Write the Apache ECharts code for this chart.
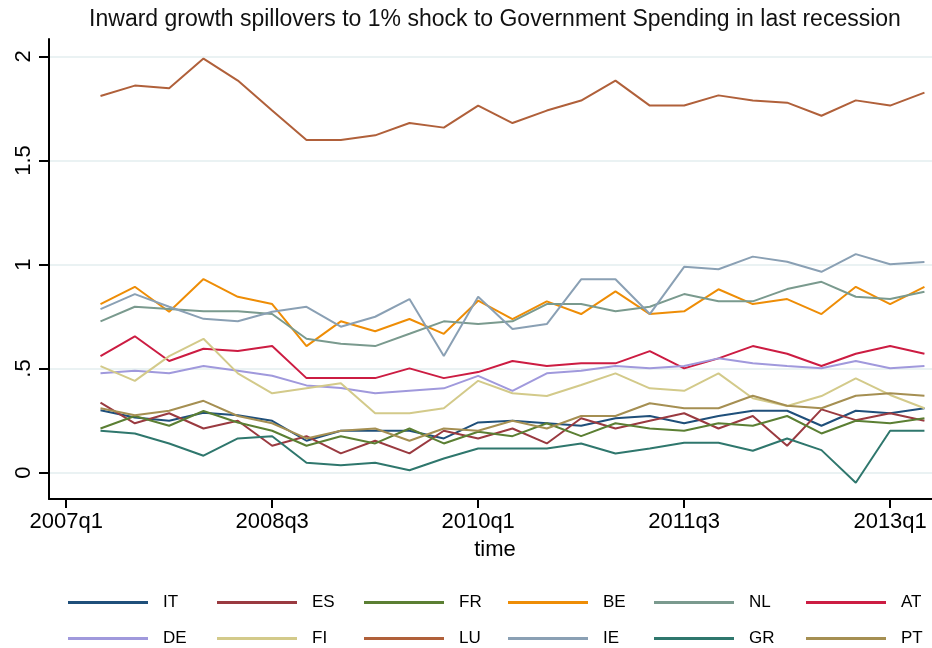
<!DOCTYPE html>
<html>
<head>
<meta charset="utf-8">
<script src="https://cdn.jsdelivr.net/npm/echarts@6/dist/echarts.min.js"></script>
<style>html,body{margin:0;padding:0;background:#fff}#c{width:932px;height:648px}</style>
</head>
<body>
<div id="c"></div>
<script>
const quarters = ["2007q2","2007q3","2007q4","2008q1","2008q2","2008q3","2008q4","2009q1","2009q2","2009q3","2009q4","2010q1","2010q2","2010q3","2010q4","2011q1","2011q2","2011q3","2011q4","2012q1","2012q2","2012q3","2012q4","2013q1","2013q2"];
const tickLabels = ["2007q1","2008q3","2010q1","2011q3","2013q1"];
const yTicks = [0, 0.5, 1, 1.5, 2];

const IT = [0.300,0.265,0.249,0.288,0.276,0.249,0.153,0.201,0.201,0.201,0.164,0.241,0.249,0.237,0.225,0.261,0.272,0.237,0.272,0.297,0.297,0.225,0.297,0.285,0.309];
const ES = [0.336,0.237,0.285,0.212,0.249,0.129,0.175,0.092,0.153,0.092,0.201,0.164,0.212,0.140,0.261,0.212,0.249,0.285,0.212,0.272,0.129,0.304,0.252,0.285,0.249];
const FR = [0.212,0.272,0.225,0.296,0.241,0.201,0.129,0.175,0.140,0.212,0.140,0.196,0.175,0.237,0.175,0.237,0.212,0.201,0.237,0.225,0.272,0.188,0.249,0.237,0.261];
const BE = [0.810,0.893,0.773,0.930,0.845,0.810,0.608,0.727,0.679,0.738,0.667,0.826,0.738,0.823,0.762,0.871,0.762,0.775,0.881,0.810,0.834,0.762,0.893,0.810,0.893];
const NL = [0.727,0.797,0.786,0.775,0.775,0.762,0.643,0.619,0.608,0.667,0.727,0.714,0.727,0.810,0.810,0.775,0.797,0.858,0.823,0.823,0.882,0.917,0.845,0.834,0.869];
const AT = [0.560,0.655,0.536,0.595,0.584,0.608,0.454,0.454,0.454,0.501,0.454,0.483,0.536,0.512,0.525,0.525,0.584,0.501,0.549,0.608,0.571,0.512,0.571,0.608,0.571];
const DE = [0.477,0.489,0.477,0.512,0.489,0.465,0.419,0.406,0.381,0.393,0.405,0.465,0.393,0.477,0.489,0.512,0.501,0.512,0.549,0.525,0.512,0.501,0.536,0.501,0.512];
const FI = [0.512,0.441,0.560,0.643,0.477,0.381,0.405,0.429,0.285,0.285,0.309,0.441,0.381,0.368,0.421,0.477,0.405,0.393,0.477,0.357,0.320,0.368,0.453,0.373,0.309];
const LU = [1.810,1.860,1.847,1.990,1.884,1.740,1.599,1.599,1.621,1.680,1.658,1.764,1.680,1.740,1.788,1.884,1.764,1.764,1.813,1.788,1.778,1.715,1.789,1.764,1.826];
const IE = [0.786,0.858,0.797,0.739,0.727,0.773,0.797,0.701,0.749,0.834,0.560,0.845,0.690,0.714,0.929,0.929,0.762,0.989,0.977,1.038,1.013,0.965,1.050,1.001,1.012];
const GR = [0.201,0.188,0.140,0.081,0.164,0.175,0.047,0.035,0.047,0.011,0.068,0.116,0.116,0.116,0.140,0.092,0.116,0.143,0.143,0.105,0.164,0.108,-0.049,0.201,0.201];
const PT = [0.309,0.276,0.297,0.345,0.272,0.237,0.164,0.201,0.212,0.153,0.212,0.201,0.249,0.212,0.272,0.272,0.333,0.309,0.309,0.369,0.321,0.309,0.369,0.381,0.369];

const seriesNames = ["IT","ES","FR","BE","NL","AT","DE","FI","LU","IE","GR","PT"];
const seriesValues = [IT,ES,FR,BE,NL,AT,DE,FI,LU,IE,GR,PT];
const colors = ["#1f4f7a","#9a3a40","#5b7f33","#ee8d06","#7a9a8e","#cc1c42","#a099dc","#d3ca8a","#b0603a","#8aa0b4","#2f776d","#a58f52"];

function qIndex(q){ const y = parseInt(q.slice(0,4),10); const n = parseInt(q.slice(5),10); return (y-2007)*4 + (n-1); }
const tickValues = tickLabels.map(qIndex);

const FONT = "Liberation Sans";

const legendCols = [68, 217, 364, 508, 654, 806];
const legendRows = [594, 630];
const legends = seriesNames.map((n, i) => ({
  data: [n],
  left: legendCols[i % 6],
  top: legendRows[Math.floor(i / 6)],
  padding: 0,
  icon: 'rect',
  itemWidth: 80,
  itemHeight: 3,
  selectedMode: false,
  textStyle: { fontFamily: FONT, fontSize: 17, color: '#000', padding: [0,0,0,10] }
}));

const chart = echarts.init(document.getElementById('c'), null, {renderer: 'canvas'});
chart.setOption({
  animation: false,
  backgroundColor: '#fff',
  color: colors,
  title: {
    text: 'Inward growth spillovers to 1% shock to Government Spending in last recession',
    left: 495, top: 8, textAlign: 'center', padding: 0,
    textStyle: { fontFamily: FONT, fontSize: 23, fontWeight: 'normal', color: '#111' }
  },
  legend: legends,
  grid: { left: 49, right: 0, top: 39, bottom: 149, containLabel: false },
  xAxis: {
    type: 'value', min: -0.5, max: 25.22,
    name: 'time', nameLocation: 'middle', nameGap: 40,
    nameTextStyle: { fontFamily: FONT, fontSize: 22, color: '#000', padding: [0,0,0,9] },
    axisLine: { show: true, onZero: false, lineStyle: { color: '#000', width: 2 } },
    axisTick: { show: true, length: 9, customValues: tickValues, lineStyle: { color: '#000', width: 2 } },
    axisLabel: { customValues: tickValues, margin: 12, fontFamily: FONT, fontSize: 22, color: '#000',
      formatter: v => tickLabels[tickValues.indexOf(Math.round(v))] || '' },
    splitLine: { show: false }
  },
  yAxis: {
    type: 'value', min: -0.127, max: 2.084,
    axisLine: { show: true, onZero: false, lineStyle: { color: '#000', width: 2 } },
    axisTick: { show: true, length: 10, customValues: yTicks, lineStyle: { color: '#000', width: 2 } },
    axisLabel: { customValues: yTicks, rotate: 90, margin: 14, fontFamily: FONT, fontSize: 22, color: '#000',
      formatter: v => { const s = String(Math.round(v*10)/10); return s.startsWith('0.') ? s.slice(1) : s; } },
    splitLine: { show: true, lineStyle: { color: '#eaf2f3', width: 2 } }
  },
  series: seriesNames.map((n, i) => ({
    name: n, type: 'line', showSymbol: false, symbol: 'none',
    lineStyle: { width: 2 },
    data: quarters.map((q, j) => [qIndex(q), seriesValues[i][j]])
  }))
});
</script>
</body>
</html>
